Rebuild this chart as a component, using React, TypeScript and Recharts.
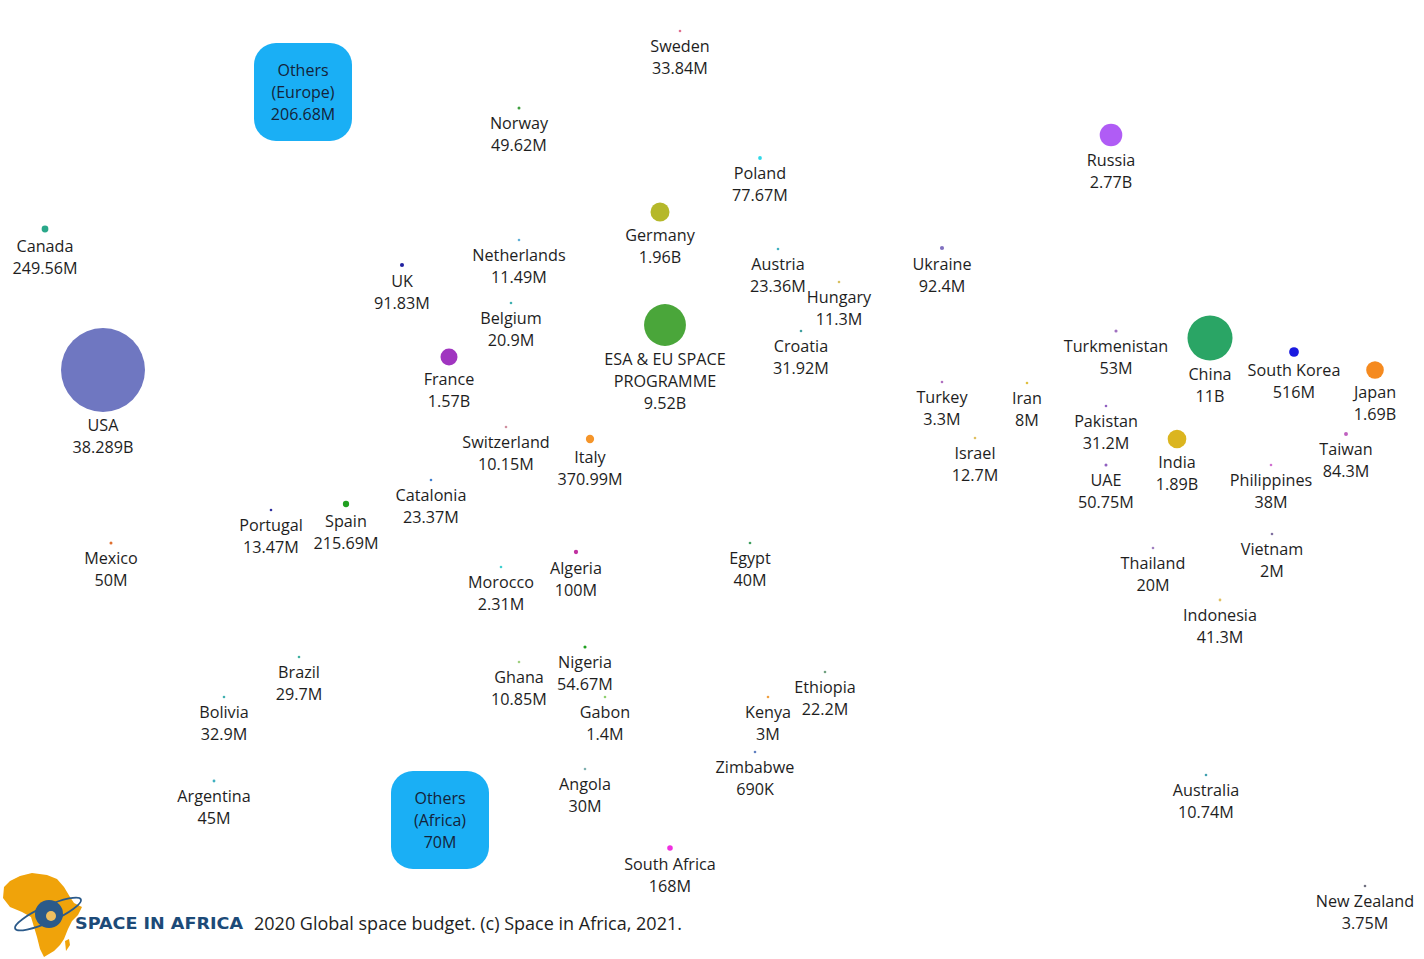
import React from 'react';
import { ScatterChart, Scatter, XAxis, YAxis, ZAxis } from 'recharts';

// Layout coordinates (chart units) for each country bubble
const countries = [
  'Sweden', 'Norway', 'Poland', 'Russia', 'Canada', 'Germany', 'Netherlands', 'UK', 'Austria', 'Hungary',
  'Ukraine', 'Belgium', 'ESA & EU SPACE\nPROGRAMME', 'Croatia', 'USA', 'France', 'Turkmenistan', 'China', 'South Korea', 'Japan',
  'Turkey', 'Iran', 'Pakistan', 'Israel', 'Switzerland', 'Italy', 'India', 'Taiwan', 'UAE', 'Philippines',
  'Catalonia', 'Spain', 'Portugal', 'Mexico', 'Algeria', 'Morocco', 'Egypt', 'Vietnam', 'Thailand', 'Indonesia',
  'Nigeria', 'Ghana', 'Brazil', 'Gabon', 'Ethiopia', 'Kenya', 'Bolivia', 'Zimbabwe', 'Angola', 'Argentina',
  'Australia', 'South Africa', 'New Zealand',
];

// 2020 budget, millions USD
const budgets = [
  33.84, 49.62, 77.67, 2770, 249.56, 1960, 11.49, 91.83, 23.36, 11.3,
  92.4, 20.9, 9520, 31.92, 38289, 1570, 53, 11000, 516, 1690,
  3.3, 8, 31.2, 12.7, 10.15, 370.99, 1890, 84.3, 50.75, 38,
  23.37, 215.69, 13.47, 50, 100, 2.31, 40, 2, 20, 41.3,
  54.67, 10.85, 29.7, 1.4, 22.2, 3, 32.9, 0.69, 30, 45,
  10.74, 168, 3.75,
];

const budgetLabels = [
  '33.84M', '49.62M', '77.67M', '2.77B', '249.56M', '1.96B', '11.49M', '91.83M', '23.36M', '11.3M',
  '92.4M', '20.9M', '9.52B', '31.92M', '38.289B', '1.57B', '53M', '11B', '516M', '1.69B',
  '3.3M', '8M', '31.2M', '12.7M', '10.15M', '370.99M', '1.89B', '84.3M', '50.75M', '38M',
  '23.37M', '215.69M', '13.47M', '50M', '100M', '2.31M', '40M', '2M', '20M', '41.3M',
  '54.67M', '10.85M', '29.7M', '1.4M', '22.2M', '3M', '32.9M', '690K', '30M', '45M',
  '10.74M', '168M', '3.75M',
];

const posX = [
  680, 519, 760, 1111, 45, 660, 519, 402, 778, 839,
  942, 511, 665, 801, 103, 449, 1116, 1210, 1294, 1375,
  942, 1027, 1106, 975, 506, 590, 1177, 1346, 1106, 1271,
  431, 346, 271, 111, 576, 501, 750, 1272, 1153, 1220,
  585, 519, 299, 605, 825, 768, 224, 755, 585, 214,
  1206, 670, 1365,
];

const posY = [
  31, 108, 158, 135, 229, 212, 240, 265, 249, 282,
  248, 303, 325, 331, 370, 357, 331, 338, 352, 370,
  382, 383, 406, 438, 427, 439, 439, 434, 465, 465,
  480, 504, 510, 543, 552, 567, 543, 534, 548, 600,
  647, 662, 657, 697, 672, 697, 697, 752, 769, 781,
  775, 848, 886,
];

const colors = [
  '#e07090', '#40a040', '#30d8e8', '#b05cf5', '#2aa88a', '#b5b82a', '#60b0d8', '#2020a0', '#40b0c0', '#d8c060',
  '#8070c0', '#40b0b0', '#4aa63a', '#40a0a0', '#6f77c1', '#a035c0', '#a070c0', '#2aa565', '#1a1ae0', '#f58a1f',
  '#b070c0', '#e0c040', '#9060c0', '#e0c060', '#d090a0', '#f5952a', '#dbb51f', '#c060c0', '#9060c0', '#d070d0',
  '#4080d0', '#20a020', '#3030a0', '#e07030', '#c030a0', '#40d0d0', '#40a060', '#8070a0', '#a080c0', '#e0c060',
  '#20a020', '#a0d080', '#40b0a0', '#90d070', '#70a080', '#f0a040', '#40b0b0', '#6080c0', '#80b0b0', '#40b0c0',
  '#40a0b0', '#f030e0', '#707080',
];

// "Others" groups shown as rounded boxes
const otherNames = ['Others\n(Europe)', 'Others\n(Africa)'];
const otherLabels = ['206.68M', '70M'];
const otherX = [303, 440];
const otherY = [92, 820];

const bubbleData = countries.map((name, i) => ({
  name,
  label: budgetLabels[i],
  x: posX[i],
  y: posY[i],
  z: budgets[i],
  color: colors[i],
}));

const otherData = otherNames.map((name, i) => ({
  name,
  label: otherLabels[i],
  x: otherX[i],
  y: otherY[i],
  z: 0,
}));

const FONT = '"Open Sans", "Noto Sans", sans-serif';
const TEXT = '#1e1e1e';

const Bubble = (props: any) => {
  const { cx, cy, width, payload } = props;
  const r = Math.max((width || 0) / 2, 1.3);
  const lines = [...payload.name.split('\n'), payload.label];
  const base = cy + r + 19.5;
  return (
    <g>
      <circle cx={cx} cy={cy} r={r} fill={payload.color} />
      {lines.map((t: string, i: number) => (
        <text key={i} x={cx} y={base + i * 22} textAnchor="middle" fontFamily={FONT} fontSize={16.2} fill={TEXT}>
          {t}
        </text>
      ))}
    </g>
  );
};

const OtherBox = (props: any) => {
  const { cx, cy, payload } = props;
  const lines = [...payload.name.split('\n'), payload.label];
  return (
    <g>
      <rect x={cx - 49} y={cy - 49} width={98} height={98} rx={22} fill="#1aaff5" />
      {lines.map((t: string, i: number) => (
        <text key={i} x={cx} y={cy - 16 + i * 22} textAnchor="middle" fontFamily={FONT} fontSize={16} fill="#14233a">
          {t}
        </text>
      ))}
    </g>
  );
};

const Logo = () => (
  <svg width={700} height={100} style={{ position: 'absolute', left: 0, top: 862 }}>
    <g transform="translate(2,9)">
      <path
        d="M8 10 L18 5 L30 2 L45 4 L55 8 L62 16 L68 26 L72 32 L80 36 L76 44 L70 50 L66 58 L62 68 L58 74 L52 80 L42 86 L38 78 L35 66 L32 56 L29 46 L20 41 L8 36 L1 27 L2 16 Z"
        fill="#f0a30a"
      />
      <path d="M63 70 L67 68 L68 74 L64 80 Z" fill="#f0a30a" />
      <ellipse cx={46} cy={43} rx={36} ry={8} fill="none" stroke="#2b5a8a" strokeWidth={1.8} transform="rotate(-24 46 43)" />
      <circle cx={47} cy={43} r={14} fill="#2b5a8a" />
      <circle cx={49} cy={45} r={5} fill="#f0c060" />
    </g>
    <text x={75} y={67} fontFamily='"DejaVu Sans", sans-serif' fontWeight={700} fontSize={16} fill="#1c4a78" textLength={168} lengthAdjust="spacingAndGlyphs">
      SPACE IN AFRICA
    </text>
    <text x={254} y={68} fontFamily={FONT} fontSize={18} fill={TEXT}>
      2020 Global space budget. (c) Space in Africa, 2021.
    </text>
  </svg>
);

export default function App() {
  return (
    <div style={{ position: 'absolute', left: 0, top: 0, width: 1424, height: 959, background: '#fff' }}>
      <ScatterChart width={1424} height={959} margin={{ top: 0, right: 0, bottom: 0, left: 0 }}>
        <XAxis type="number" dataKey="x" domain={[0, 1424]} hide />
        <YAxis type="number" dataKey="y" domain={[0, 959]} reversed hide />
        <ZAxis type="number" dataKey="z" domain={[0, 38289]} range={[0, 5540]} />
        <Scatter data={otherData} shape={<OtherBox />} isAnimationActive={false} />
        <Scatter data={bubbleData} shape={<Bubble />} isAnimationActive={false} />
      </ScatterChart>
      <Logo />
    </div>
  );
}
